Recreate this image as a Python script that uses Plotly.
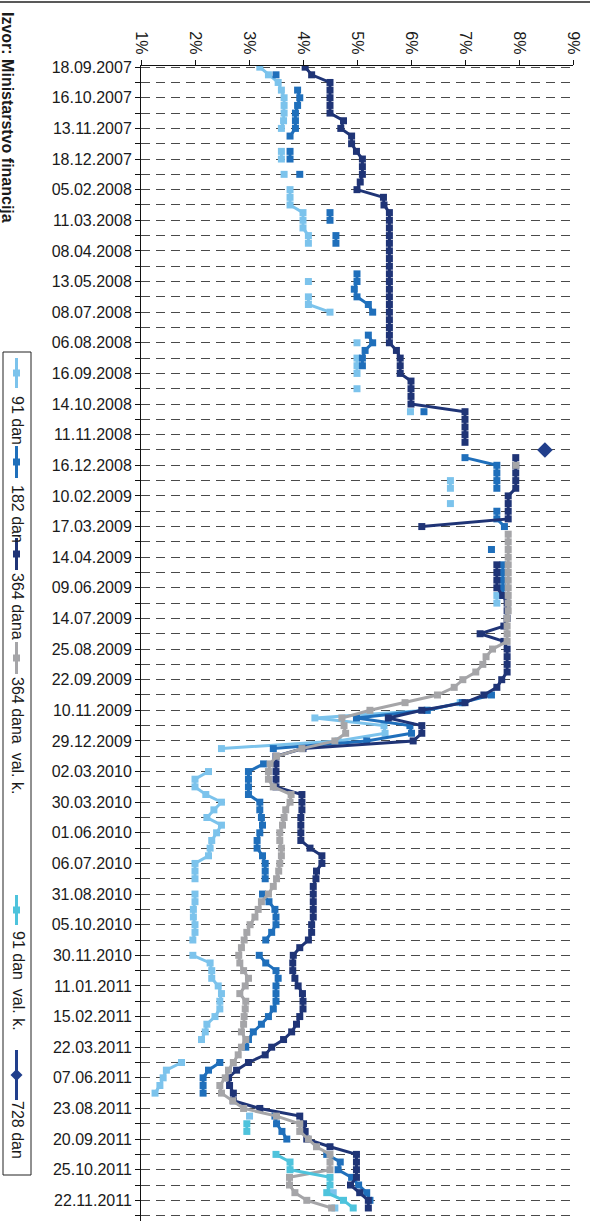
import plotly.graph_objects as go

# ---------------- data ----------------
tick_labels = ["18.09.2007", "16.10.2007", "13.11.2007", "18.12.2007", "05.02.2008",
               "11.03.2008", "08.04.2008", "13.05.2008", "08.07.2008", "06.08.2008",
               "16.09.2008", "14.10.2008", "11.11.2008", "16.12.2008", "10.02.2009",
               "17.03.2009", "14.04.2009", "09.06.2009", "14.07.2009", "25.08.2009",
               "22.09.2009", "10.11.2009", "29.12.2009", "02.03.2010", "30.03.2010",
               "01.06.2010", "06.07.2010", "31.08.2010", "05.10.2010", "30.11.2010",
               "11.01.2011", "15.02.2011", "22.03.2011", "07.06.2011", "23.08.2011",
               "20.09.2011", "25.10.2011", "22.11.2011"]
N = None
s91 = [3.20, 3.36, 3.54, 3.60, 3.65, 3.65, 3.65, 3.64, 3.60, N,
       N, 3.60, 3.60, N, 3.65, N, 3.76, 3.76, 3.76, 4.00,
       4.00, 4.00, 4.10, 4.10, N, N, N, N, 4.10, N,
       4.10, 4.10, 4.50, N, N, N, 5.00, N, 5.00, 5.00,
       5.00, N, 5.00, N, N, 5.99, N, N, N, N,
       N, N, N, N, 6.73, 6.73, N, 6.73, N, N,
       N, N, N, N, N, N, N, N, N, 7.59,
       7.59, N, N, N, N, N, N, N, N, N,
       N, N, N, 6.91, 6.30, 4.22, 5.50, 5.52, 4.65, 2.49,
       N, N, 2.25, 2.00, 2.00, 2.20, 2.49, 2.35, 2.22, 2.49,
       2.40, 2.31, 2.28, 2.25, 2.00, 2.00, 2.00, N, 2.00, 2.00,
       1.97, 1.97, 2.00, 2.00, 1.96, N, 1.96, 2.28, 2.31, 2.31,
       2.43, 2.49, 2.46, 2.46, 2.37, 2.22, 2.19, 2.12, N, N,
       1.75, 1.47, 1.41, 1.35, 1.26, N, N, 3.01, N, N,
       N, N, N, N, N, N, N, 4.56, N, 4.59, N]
s182 = [N, 3.50, N, 3.90, 3.94, 3.90, 3.86, 3.86, 3.86, 3.76,
        N, 3.76, 3.76, N, 3.94, N, N, N, N, 4.50,
        4.50, N, 4.61, 4.61, N, N, N, 5.00, 5.00, 4.95,
        5.00, 5.21, 5.29, N, N, 5.21, 5.29, 5.15, 5.10, 5.10,
        N, N, N, N, N, 6.24, N, N, N, N,
        N, 7.00, 7.59, 7.59, 7.59, 7.59, N, N, 7.59, 7.59,
        7.73, N, N, 7.49, N, 7.70, 7.70, 7.70, 7.70, 7.70,
        N, N, N, N, N, N, N, N, N, N,
        N, N, 7.49, 6.95, 6.30, 4.99, 5.98, 6.01, 5.18, 3.45,
        N, 3.27, 2.99, 2.99, 2.99, 2.99, 3.20, 3.20, 3.23, 3.25,
        3.20, 3.15, 3.15, 3.25, 3.30, 3.30, 3.30, N, 3.25, 3.37,
        3.48, 3.50, 3.50, 3.42, 3.31, N, 3.19, 3.31, 3.50, 3.54,
        3.50, 3.50, 3.50, 3.45, 3.36, 3.23, 3.08, 2.99, 2.94, N,
        2.46, 2.25, 2.15, 2.15, 2.15, N, N, 3.48, 3.51, 3.61,
        3.70, N, 4.44, 4.69, 4.65, 4.90, 5.03, 5.18, 5.24, N, N]
s364 = [4.04, 4.16, 4.50, 4.50, 4.50, 4.50, 4.50, 4.75, 4.70, 4.90,
        4.90, 4.99, 5.10, 5.10, 5.10, 5.06, 5.00, 5.49, 5.50, 5.60,
        5.60, 5.60, 5.60, 5.60, 5.60, 5.60, 5.60, 5.60, 5.60, 5.60,
        5.60, 5.60, 5.60, 5.60, 5.60, 5.60, 5.60, 5.73, 5.80, 5.80,
        5.80, 6.00, 6.00, 6.00, 6.00, 7.00, 7.00, 7.00, 7.00, 7.00,
        N, 7.94, 7.94, 7.94, 7.94, 7.94, 7.80, 7.80, 7.80, 7.80,
        6.20, N, N, N, N, 7.59, 7.59, 7.59, 7.59, 7.70,
        7.78, 7.78, 7.78, 7.72, 7.28, 7.72, 7.78, 7.78, 7.78, 7.78,
        7.68, 7.59, 7.35, 7.00, 6.20, 5.58, 6.20, 6.20, 6.04, 4.00,
        3.50, 3.50, 3.50, 3.50, 3.50, 3.98, 3.98, 3.98, 3.96, 3.96,
        3.96, 3.96, 4.13, 4.35, 4.35, 4.25, 4.24, 4.19, 4.19, 4.19,
        4.19, 4.19, 4.16, 4.16, 4.10, 3.94, 3.82, 3.81, 3.81, 3.85,
        3.91, 3.99, 4.00, 4.00, 3.94, 3.88, 3.79, 3.64, 3.42, 3.30,
        2.99, 2.77, 2.62, 2.64, 2.71, 2.71, 3.20, 3.94, 4.01, 4.04,
        4.07, 4.50, 4.99, 4.99, 4.99, 4.99, 4.88, 5.05, 5.21, 5.21, N]
s364vk = [N] * 52 + [7.94] + [N] * 8 + [
        7.80, 7.80, 7.80, 7.80, 7.80, 7.80, 7.80, 7.80, 7.80,
        7.80, 7.80, 7.78, 7.78, 7.78, 7.78, 7.51, 7.39, 7.33, 7.20,
        6.96, 6.80, 6.49, 5.89, 5.24, 4.72, 4.76, 4.79, 4.59, 3.98,
        3.51, 3.39, 3.36, 3.36, 3.45, 3.78, 3.76, 3.68, 3.65, 3.62,
        3.57, 3.57, 3.60, 3.60, 3.57, 3.55, 3.51, 3.45, 3.36, 3.23,
        3.17, 3.11, 3.02, 2.96, 2.91, 2.86, 2.81, 2.83, 2.90, 2.99,
        2.93, 2.83, 2.94, 2.93, 2.91, 2.90, 2.86, 2.94, 2.86, 2.80,
        2.71, 2.62, 2.56, 2.46, 2.49, 2.70, 2.90, 3.51, 3.94, 3.94,
        4.10, 4.25, 4.50, 4.50, 4.50, 3.75, 3.75, 3.85, 4.07, 4.53, N]
s91vk = [N] * 138 + [2.96, 2.96, N, N, 3.50, 3.76, 3.76, 4.50, 4.50, 4.44, 4.75, 4.93, N]
s728 = [N] * 50 + [8.48] + [N] * 100

series_names = ["91 dan", "182 dan", "364 dana", "364 dana  val. k.", "91 dan  val. k.", "728 dan"]
series_data = [s91, s182, s364, s364vk, s91vk, s728]
colors = ["#7cc3ec", "#1f6fbb", "#1f3476", "#a5a5a8", "#4ec3dc", "#213f8c"]
pct_ticks = [1, 2, 3, 4, 5, 6, 7, 8, 9]

# ---------------- figure ----------------
W, H = 590, 1221
ML, MR, MT, MB = 141, 17, 66, 0
PW, PH = W - ML - MR, H - MT - MB
FONT = "Liberation Sans, Arial, sans-serif"
LW, MS = 3.0, 7


def px(xp):
    return (xp - ML) / PW


def py(yp):
    return (H - MB - yp) / PH


cats = list(range(len(s91)))
fig = go.Figure()
for name, vals, col in zip(series_names, series_data, colors):
    if name == "728 dan":
        fig.add_trace(go.Scatter(x=vals, y=cats, mode="markers", name=name,
                                 marker=dict(symbol="diamond", size=12, color=col)))
    else:
        fig.add_trace(go.Scatter(x=vals, y=cats, mode="lines+markers", name=name,
                                 line=dict(color=col, width=LW),
                                 marker=dict(symbol="square", size=MS, color=col)))

tickvals = list(range(0, len(cats), 2))
ticktext = [tick_labels[v // 4] if v % 4 == 0 and v // 4 < len(tick_labels) else "" for v in tickvals]

fig.update_layout(
    width=W, height=H, margin=dict(l=ML, r=MR, t=MT, b=MB, pad=0),
    paper_bgcolor="white", plot_bgcolor="white", showlegend=False,
    font=dict(family=FONT, size=16, color="#1a1a1a"),
    xaxis=dict(range=[1, 9], side="top", tickvals=pct_ticks,
               ticktext=[f"{v}%" for v in pct_ticks], tickangle=90,
               ticks="outside", ticklen=5, tickcolor="#111", showline=True,
               linecolor="#111", linewidth=1, showgrid=False, zeroline=False,
               tickfont=dict(size=16, family=FONT, color="#1a1a1a")),
    yaxis=dict(range=[len(cats) - 0.3, -0.15], tickvals=tickvals, ticktext=ticktext,
               ticks="outside", ticklen=5, tickcolor="#111", showline=True,
               linecolor="#111", linewidth=1, showgrid=True, gridcolor="#4a4a4a",
               gridwidth=1, griddash="9px,6px", zeroline=False,
               tickfont=dict(size=16, family=FONT, color="#1a1a1a")),
)

shapes = []
# top border line
shapes.append(dict(type="line", xref="paper", yref="paper", x0=px(0), x1=px(W),
                   y0=py(2), y1=py(2), line=dict(color="#222", width=1.5)))
# legend box
shapes.append(dict(type="rect", xref="paper", yref="paper", x0=px(3), x1=px(31),
                   y0=py(352), y1=py(1175), line=dict(color="#222", width=1),
                   fillcolor="white"))
leg_lines = [(358, 388), (446, 478), (538, 570), (642, 674), (895, 925), (1050, 1100)]
leg_text_c = [420, 514, 606, 735, 981, 1130]
LX = 16.5
annotations = []
for i, (name, col) in enumerate(zip(series_names, colors)):
    a, b = leg_lines[i]
    shapes.append(dict(type="line", xref="paper", yref="paper", x0=px(LX), x1=px(LX),
                       y0=py(a), y1=py(b), line=dict(color=col, width=LW)))
    mid = (a + b) / 2
    if name == "728 dan":
        shapes.append(dict(type="path", xref="paper", yref="paper",
                           path=f"M {px(LX - 6)},{py(mid)} L {px(LX)},{py(mid - 6)} L {px(LX + 6)},{py(mid)} L {px(LX)},{py(mid + 6)} Z",
                           fillcolor=col, line=dict(color=col, width=0)))
    else:
        shapes.append(dict(type="rect", xref="paper", yref="paper",
                           x0=px(LX - 3.5), x1=px(LX + 3.5), y0=py(mid - 3.5), y1=py(mid + 3.5),
                           fillcolor=col, line=dict(color=col, width=0)))
    annotations.append(dict(xref="paper", yref="paper", x=px(18), y=py(leg_text_c[i]),
                            text=name, textangle=90, showarrow=False,
                            xanchor="center", yanchor="middle",
                            font=dict(size=16, family=FONT, color="#1a1a1a")))

annotations.append(dict(xref="paper", yref="paper", x=px(8), y=py(117),
                        text="<b>Izvor: Ministarstvo financija</b>", textangle=90,
                        showarrow=False, xanchor="center", yanchor="middle",
                        font=dict(size=16, family=FONT, color="#1a1a1a")))

fig.update_layout(shapes=shapes, annotations=annotations)
fig.write_html("out.html", config={"displayModeBar": False},
               post_script="document.body.style.margin='0';document.body.style.overflow='hidden';")
